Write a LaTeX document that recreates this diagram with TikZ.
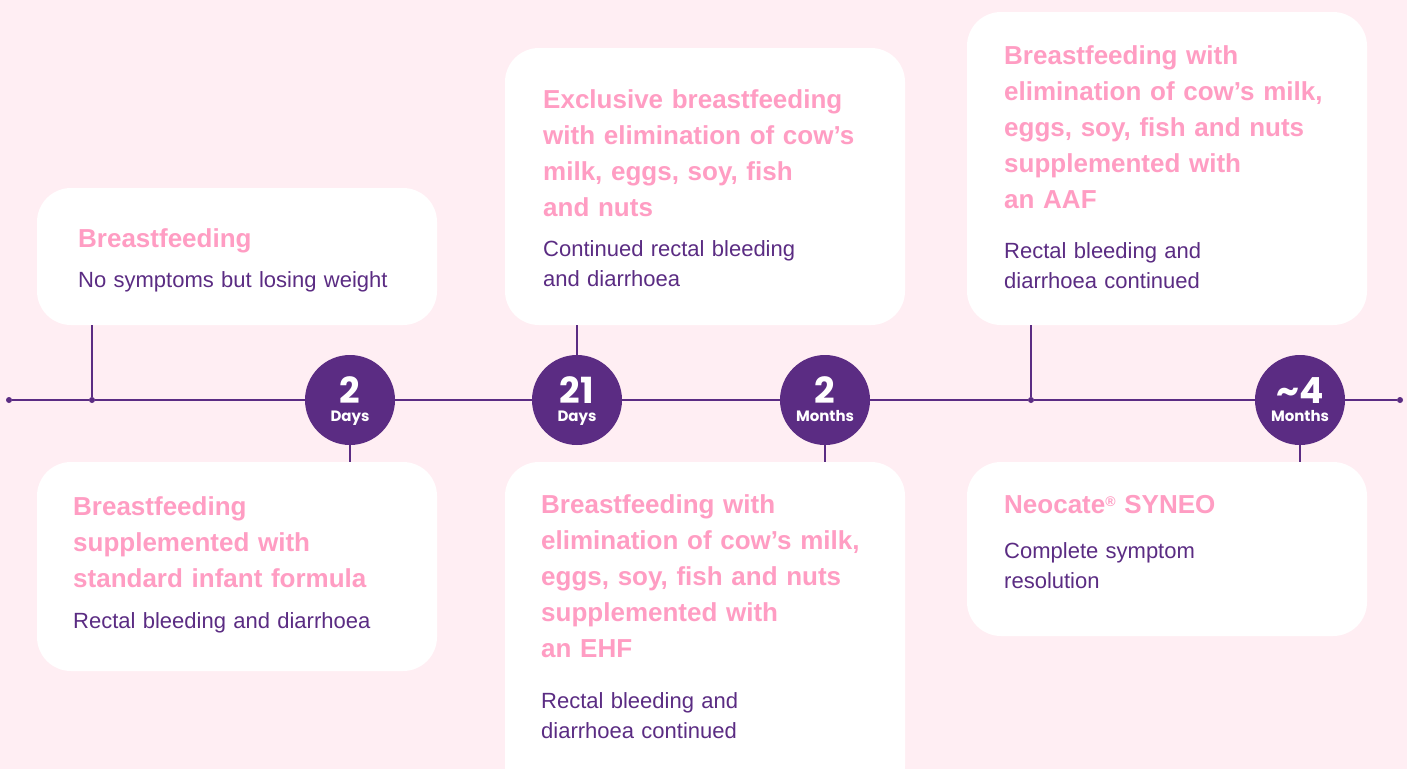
\documentclass[tikz,border=0pt]{standalone}
\usepackage{fontspec}
\setmainfont{Liberation Sans}
\newfontfamily\stampfont{Poppins}[UprightFont=* Bold]

\definecolor{paper}{HTML}{FFEEF3}
\definecolor{deeppurple}{HTML}{5B2C83}
\definecolor{headpink}{HTML}{FF9DC3}

\tikzset{
  card/.style={fill=white, draw=none, rounded corners=34pt, minimum width=400pt, inner sep=0pt},
  head/.style={anchor=base west, inner sep=0pt, text width=390pt, align=left, text=headpink,
    font=\bfseries\fontsize{26}{36}\selectfont},
  body/.style={anchor=base west, inner sep=0pt, text width=390pt, align=left, text=deeppurple,
    font=\fontsize{22}{30}\selectfont},
  stamp/.style={circle, fill=deeppurple, minimum size=90pt, inner sep=0pt},
  stampnum/.style={anchor=base, inner sep=0pt, text=white, font=\stampfont\fontsize{36}{36}\selectfont},
  stampunit/.style={anchor=base, inner sep=0pt, text=white, font=\stampfont\fontsize{15}{15}\selectfont},
  dot/.style={circle, fill=deeppurple, minimum size=6pt, inner sep=0pt},
  link/.style={draw=deeppurple, line width=1.6pt}
}

\begin{document}
\begin{tikzpicture}[x=1pt, y=-1pt]
    \clip (0,0) rectangle (1407,769);
    \fill[paper] (0,0) rectangle (1407,769);
    % Cards
    \node[card, minimum height=137pt] (bfbox) at (237,256.5) {};
    \node[card, minimum height=209pt] (stdbox) at (237,566.5) {};
    \node[card, minimum height=277pt] (exbox) at (705,186.5) {};
    \node[card, minimum height=338pt] (ehfbox) at (705,631) {};
    \node[card, minimum height=313pt] (aafbox) at (1167,168.5) {};
    \node[card, minimum height=174pt] (neobox) at (1167,549) {};
    % Card texts
    \node[head] (bfhead) at (78,247) {Breastfeeding};
    \node[body] (bftext) at (78,287) {No symptoms but losing weight};
    \node[head] (stdhead) at (73,515) {Breastfeeding\\supplemented with\\standard infant formula};
    \node[body] (stdtext) at (73,628) {Rectal bleeding and diarrhoea};
    \node[head] (exhead) at (543,108) {Exclusive breastfeeding\\with elimination of cow’s\\milk, eggs, soy, fish\\and nuts};
    \node[body] (extext) at (543,256) {Continued rectal bleeding\\and diarrhoea};
    \node[head] (ehfhead) at (541,513) {Breastfeeding with\\elimination of cow’s milk,\\eggs, soy, fish and nuts\\supplemented with\\an EHF};
    \node[body] (ehftext) at (541,708) {Rectal bleeding and\\diarrhoea continued};
    \node[head] (aafhead) at (1004,64) {Breastfeeding with\\elimination of cow’s milk,\\eggs, soy, fish and nuts\\supplemented with\\an AAF};
    \node[body] (aaftext) at (1004,258) {Rectal bleeding and\\diarrhoea continued};
    \node[head] (neohead) at (1004,513) {Neocate{\fontsize{14}{14}\selectfont\raisebox{7pt}{®}} SYNEO};
    \node[body] (neotext) at (1004,558) {Complete symptom\\resolution};
    % Timeline stops
    \node[dot] (tstart) at (9,400) {};
    \node[dot] (p1) at (92,400) {};
    \node[stamp] (d2) at (350,400) {};
    \node[stamp] (d21) at (577,400) {};
    \node[stamp] (m2) at (825,400) {};
    \node[dot] (p2) at (1031,400) {};
    \node[stamp] (m4) at (1300,400) {};
    \node[dot] (tend) at (1400,400) {};
    % Stop labels
    \node[stampnum] (d2num) at (350,403) {2};
    \node[stampunit] (d2unit) at (350,421) {Days};
    \node[stampnum] (d21num) at (577,403) {21};
    \node[stampunit] (d21unit) at (577,421) {Days};
    \node[stampnum] (m2num) at (825,403) {2};
    \node[stampunit] (m2unit) at (825,421) {Months};
    \node[stampnum] (m4num) at (1300,403) {\textasciitilde4};
    \node[stampunit] (m4unit) at (1300,421) {Months};
    % Edges
    \draw[link] (tstart) -- (p1) -- (d2) -- (d21) -- (m2) -- (p2) -- (m4) -- (tend);
    \draw[link] (p1) -- (p1 |- bfbox.south);
    \draw[link] (d2) -- (d2 |- stdbox.north);
    \draw[link] (d21) -- (d21 |- exbox.south);
    \draw[link] (m2) -- (m2 |- ehfbox.north);
    \draw[link] (p2) -- (p2 |- aafbox.south);
    \draw[link] (m4) -- (m4 |- neobox.north);
\end{tikzpicture}
\end{document}
